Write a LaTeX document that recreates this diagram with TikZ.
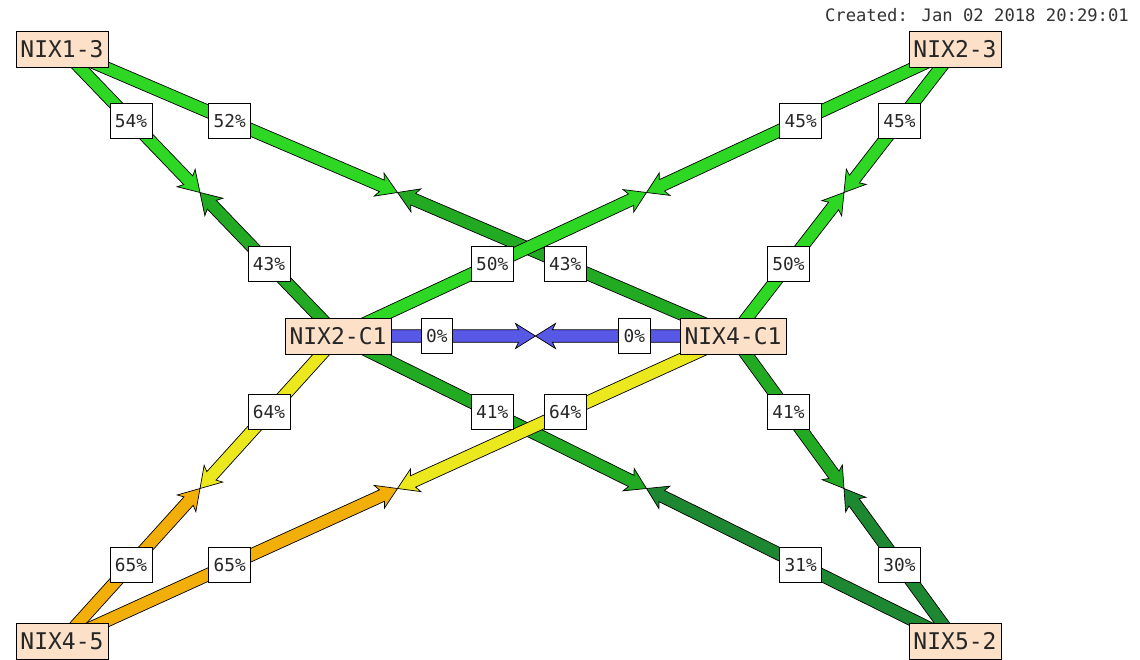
\documentclass[tikz,border=0pt]{standalone}
\usepackage{fontspec}
\newfontfamily\wmono{DejaVu Sans Mono}
\usetikzlibrary{calc}
\pgfdeclarelayer{bg}
\pgfdeclarelayer{links}
\pgfsetlayers{bg,links,main}
\definecolor{nodefill}{RGB}{252,224,200}
\definecolor{gbright}{RGB}{45,215,35}
\definecolor{gmid}{RGB}{35,170,35}
\definecolor{gdark}{RGB}{30,135,50}
\definecolor{wyellow}{RGB}{235,232,30}
\definecolor{worange}{RGB}{242,175,10}
\definecolor{wblue}{RGB}{88,88,230}
\tikzset{
  wmnode/.style={draw=black, line width=0.8pt, fill=nodefill, text=black!85,
    font=\wmono\fontsize{23}{28}\selectfont, inner xsep=4.5pt, inner ysep=0pt, minimum height=36pt},
  lbl/.style={draw=black, line width=0.8pt, fill=white, text=black!85,
    font=\wmono\fontsize{17.8}{21}\selectfont, inner xsep=5pt, inner ysep=0pt, minimum height=35pt},
  wmarrow/.style={draw=black, line width=0.7pt, line join=miter}
}
% half link: from node #1 to mid coordinate #2, colour #3
\newcommand{\wmhalf}[3]{%
  \coordinate (wmh) at ($(#2)!20pt!(#1.center)$);
  \coordinate (wmk) at ($(#2)!17pt!(#1.center)$);
  \filldraw[wmarrow, fill=#3]
    ($(#1.center)!6.25pt!90:(#2)$) -- ($(wmk)!6.25pt!-90:(#1.center)$)
    -- ($(wmh)!12.5pt!-90:(#1.center)$) -- (#2)
    -- ($(wmh)!12.5pt!90:(#1.center)$) -- ($(wmk)!6.25pt!90:(#1.center)$)
    -- ($(#1.center)!6.25pt!-90:(#2)$) -- cycle;}
% link: #1 A, #2 B, #3 mid name, #4 colour A side, #5 colour B side, #6 label A, #7 label B
\newcommand{\wmlink}[7]{%
  \path (#1.center) -- (#2.center) coordinate[pos=0.5] (#3);
  \begin{pgfonlayer}{links}
    \wmhalf{#1}{#3}{#4}
    \wmhalf{#2}{#3}{#5}
  \end{pgfonlayer}
  \path (#1.center) -- (#2.center) node[lbl,pos=0.25] (#3a) {#6} node[lbl,pos=0.75] (#3b) {#7};}
\begin{document}
\begin{tikzpicture}[x=1pt,y=-1pt]
\useasboundingbox (0,0) rectangle (1140,659);
\begin{pgfonlayer}{bg}
\fill[white] (0,0) rectangle (1140,659);
\end{pgfonlayer}
\node[wmnode] (n13) at (62,49) {NIX1-3};
\node[wmnode] (n23) at (955,49) {NIX2-3};
\node[wmnode] (c2) at (338,336) {NIX2-C1};
\node[wmnode] (c4) at (733,336) {NIX4-C1};
\node[wmnode] (n45) at (62,641) {NIX4-5};
\node[wmnode] (n52) at (955,641) {NIX5-2};
\node[anchor=base east, inner sep=0pt, text=black!80, font=\wmono\fontsize{17.2}{20}\selectfont] (cr) at (1129,21.5) {Created: Jan 02 2018 20:29:01};
\wmlink{n13}{c2}{ma}{gbright}{gmid}{54\%}{43\%}
\wmlink{n13}{c4}{mb}{gbright}{gmid}{52\%}{43\%}
\wmlink{n23}{c2}{mc}{gbright}{gbright}{45\%}{50\%}
\wmlink{n23}{c4}{md}{gbright}{gbright}{45\%}{50\%}
\wmlink{c2}{c4}{me}{wblue}{wblue}{0\%}{0\%}
\wmlink{n52}{c2}{mh}{gdark}{gmid}{31\%}{41\%}
\wmlink{n52}{c4}{mi}{gdark}{gmid}{30\%}{41\%}
\wmlink{n45}{c2}{mf}{worange}{wyellow}{65\%}{64\%}
\wmlink{n45}{c4}{mg}{worange}{wyellow}{65\%}{64\%}
\end{tikzpicture}
\end{document}
